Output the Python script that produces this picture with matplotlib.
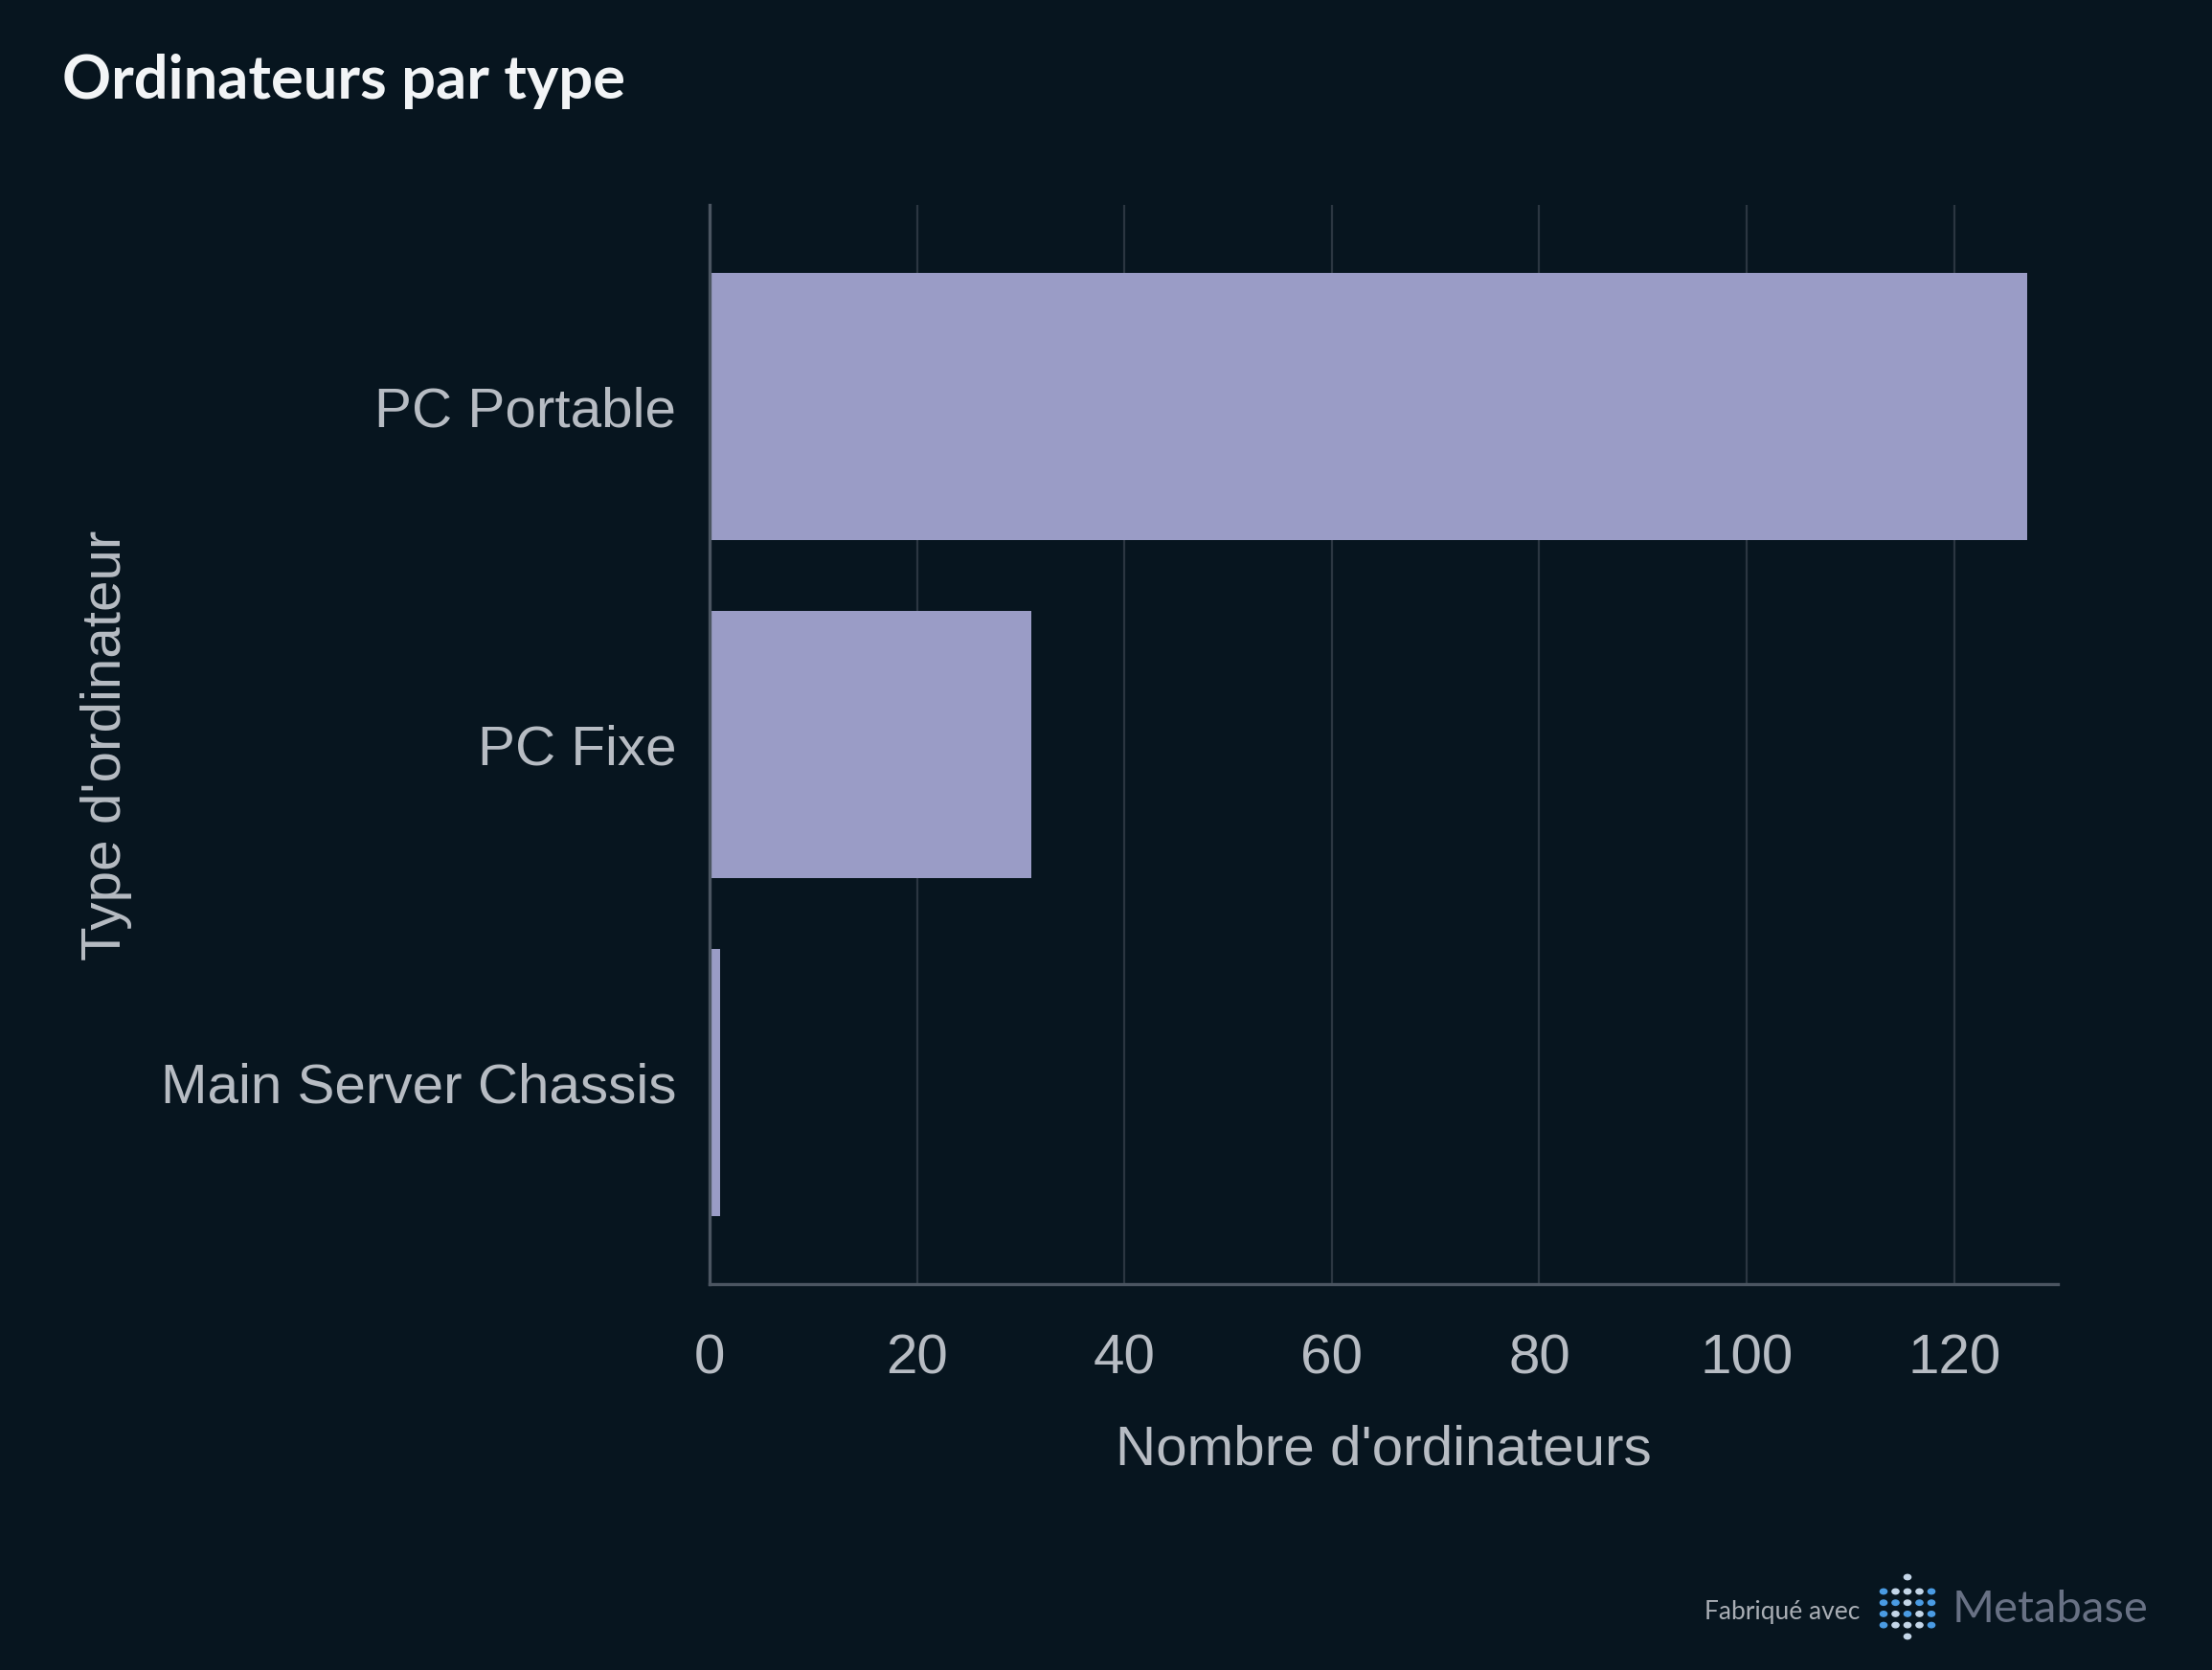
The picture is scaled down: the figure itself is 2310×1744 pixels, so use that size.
import matplotlib
matplotlib.use("Agg")
from matplotlib import pyplot as plt

# data
types = ["PC Portable", "PC Fixe", "Main Server Chassis"]
counts = [127, 31, 1]
x_ticks = [0, 20, 40, 60, 80, 100, 120]

bg = "#07151f"
bar_col = "#9a9cc6"
txt_col = "#b7bcc3"
grid_col = "#2b3641"
spine_col = "#4b5561"

W, H = 2310, 1744
fig = plt.figure(figsize=(W / 100, H / 100), dpi=100, facecolor=bg)
ax = fig.add_axes([741 / W, 1 - 1341 / H, (2149 - 741) / W, (1341 - 214) / H])
ax.set_facecolor(bg)

ypos = list(range(len(types)))
ax.barh(ypos, counts, height=0.79, color=bar_col, zorder=3)

ax.set_xlim(0, 130)
ax.set_ylim(2.596, -0.596)
ax.set_xticks(x_ticks)
ax.set_yticks(ypos)
ax.set_yticklabels(types)
ax.grid(axis="x", color=grid_col, linewidth=1.6, zorder=0)
ax.grid(axis="y", visible=False)

for s in ["top", "right"]:
    ax.spines[s].set_visible(False)
for s in ["left", "bottom"]:
    ax.spines[s].set_color(spine_col)
    ax.spines[s].set_linewidth(2.4)
    ax.spines[s].set_zorder(4)

lab_font = "Liberation Sans"
ax.tick_params(axis="both", length=0, labelsize=42, labelcolor=txt_col)
ax.tick_params(axis="x", pad=37)
ax.tick_params(axis="y", pad=25)
for t in ax.get_xticklabels() + ax.get_yticklabels():
    t.set_fontfamily(lab_font)

ax.set_xlabel("Nombre d'ordinateurs", fontsize=42, color=txt_col, family=lab_font)
ax.xaxis.set_label_coords(0.5, (1341 - 1514) / (1341 - 214))
ax.xaxis.label.set_va("center")

fig.text(111 / W, 1 - 778 / H, "Type d'ordinateur", rotation=90, ha="center", va="center",
         fontsize=42, color=txt_col, family=lab_font)

fig.text(65 / W, 1 - 85 / H, "Ordinateurs par type", ha="left", va="center",
         fontsize=45.5, fontweight="bold", color="#f2f4f6", family="Lato")

# "Fabriqué avec Metabase" footer
fig.text(1942 / W, 1 - 1683 / H, "Fabriqué avec", ha="right", va="center",
         fontsize=19, color="#a9aeb5", family="Lato")
fig.text(2039 / W, 1 - 1681 / H, "Metabase", ha="left", va="center",
         fontsize=34, color="#687184", family="Lato")

blue, light = "#4a9be3", "#c4d6e8"
pattern = ["BLLLB", "BBLBB", "BLBLB", "BLLLB"]
for r, row in enumerate(pattern):
    for c, ch in enumerate(row):
        fig.patches.append(plt.Circle(((1967 + 12.5 * c) / W, 1 - (1662 + 11.7 * r) / H),
                                      3.6 / W, color=blue if ch == "B" else light,
                                      transform=fig.transFigure))
for yy in (1647, 1709):
    fig.patches.append(plt.Circle(((1967 + 25) / W, 1 - yy / H), 3.6 / W, color=light,
                                  transform=fig.transFigure))

fig.savefig("out.png", dpi=100, facecolor=bg)
